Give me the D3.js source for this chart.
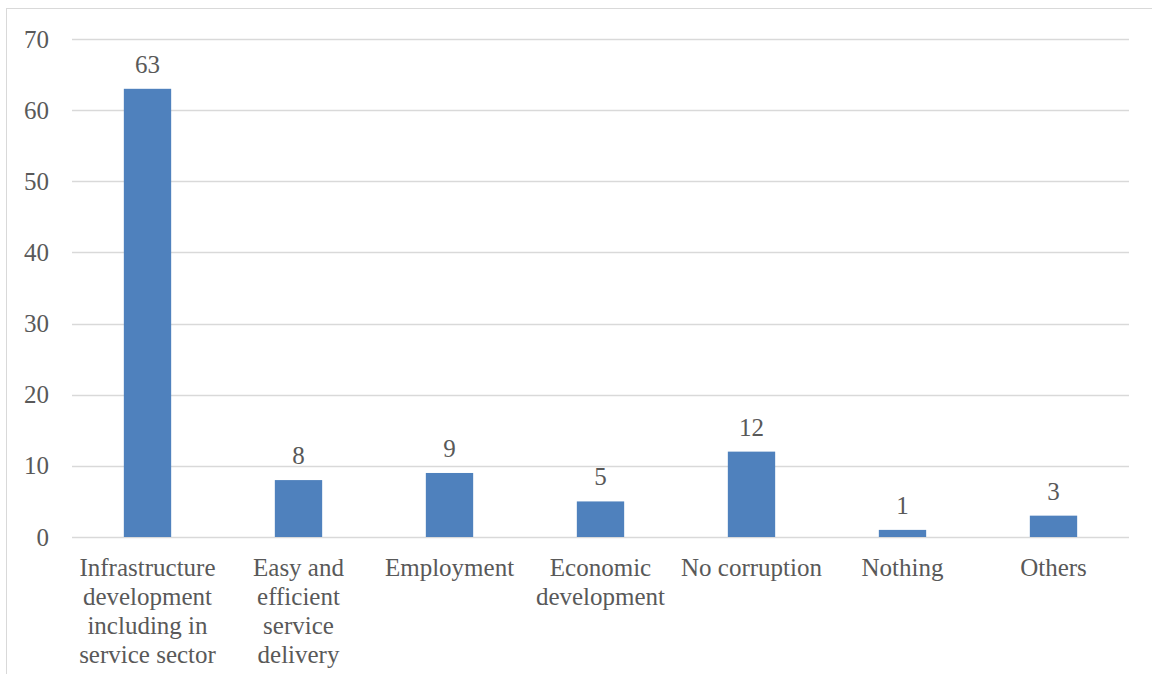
<!DOCTYPE html>
<html>
<head>
<meta charset="utf-8">
<script src="https://cdn.jsdelivr.net/npm/d3@7"></script>
<style>
  html, body { margin: 0; padding: 0; background: #fff; }
  svg { display: block; }
  text { font-family: "Liberation Serif", "DejaVu Serif", serif; fill: #595959; }
</style>
</head>
<body>
<div id="chart"></div>
<script>
// Survey responses per category
const categories = [
  "Infrastructure\ndevelopment\nincluding in\nservice sector",
  "Easy and\nefficient\nservice\ndelivery",
  "Employment",
  "Economic\ndevelopment",
  "No corruption",
  "Nothing",
  "Others"
];
const values = [63, 8, 9, 5, 12, 1, 3];
const yTicks = [0, 10, 20, 30, 40, 50, 60, 70];

const W = 1152, H = 674;
const margin = { left: 72, right: 23, top: 39, bottom: 137 };
const FS = "25px";

const svg = d3.select("#chart").append("svg")
  .attr("width", W).attr("height", H);

// chart frame (left and top edges visible)
svg.append("rect")
  .attr("x", 6.5).attr("y", 8.5)
  .attr("width", W + 10).attr("height", H + 10)
  .attr("fill", "none").attr("stroke", "#d9d9d9").attr("stroke-width", 1);

const band = (W - margin.right - margin.left) / categories.length;

const x = d3.scaleBand()
  .domain(d3.range(categories.length))
  .range([margin.left, W - margin.right]);

const y = d3.scaleLinear()
  .domain([0, 70])
  .range([H - margin.bottom, margin.top]);

// gridlines
svg.append("g")
  .selectAll("line")
  .data(yTicks)
  .join("line")
  .attr("x1", margin.left).attr("x2", W - margin.right)
  .attr("y1", d => Math.round(y(d)) + 0.5).attr("y2", d => Math.round(y(d)) + 0.5)
  .attr("stroke", "#d9d9d9").attr("stroke-width", 1.5);

// y-axis labels
const yAxis = d3.axisLeft(y).tickValues(yTicks).tickSize(0).tickPadding(0);
const yg = svg.append("g")
  .attr("transform", `translate(${margin.left - 23},0)`)
  .call(yAxis);
yg.select(".domain").remove();
yg.selectAll("text")
  .attr("font-family", null)
  .style("font-size", FS).attr("fill", "#595959");

// bars
const barW = x.bandwidth() / 3.19;
const cx = i => x(i) + x.bandwidth() / 2;
svg.append("g")
  .selectAll("rect")
  .data(values)
  .join("rect")
  .attr("x", (d, i) => cx(i) - barW / 2)
  .attr("y", d => y(d))
  .attr("width", barW)
  .attr("height", d => y(0) - y(d))
  .attr("fill", "#4f81bd");

// value labels
svg.append("g")
  .selectAll("text")
  .data(values)
  .join("text")
  .attr("x", (d, i) => cx(i))
  .attr("y", d => y(d) - 16)
  .attr("text-anchor", "middle")
  .style("font-size", FS)
  .text(d => d);

// category labels
const cg = svg.append("g")
  .selectAll("text")
  .data(categories)
  .join("text")
  .attr("x", (d, i) => cx(i))
  .attr("y", y(0) + 39)
  .attr("text-anchor", "middle")
  .style("font-size", FS);
cg.selectAll("tspan")
  .data(d => d.split("\n"))
  .join("tspan")
  .attr("x", function () { return this.parentNode.getAttribute("x"); })
  .attr("dy", (d, i) => i === 0 ? 0 : 29)
  .text(d => d);
</script>
</body>
</html>
